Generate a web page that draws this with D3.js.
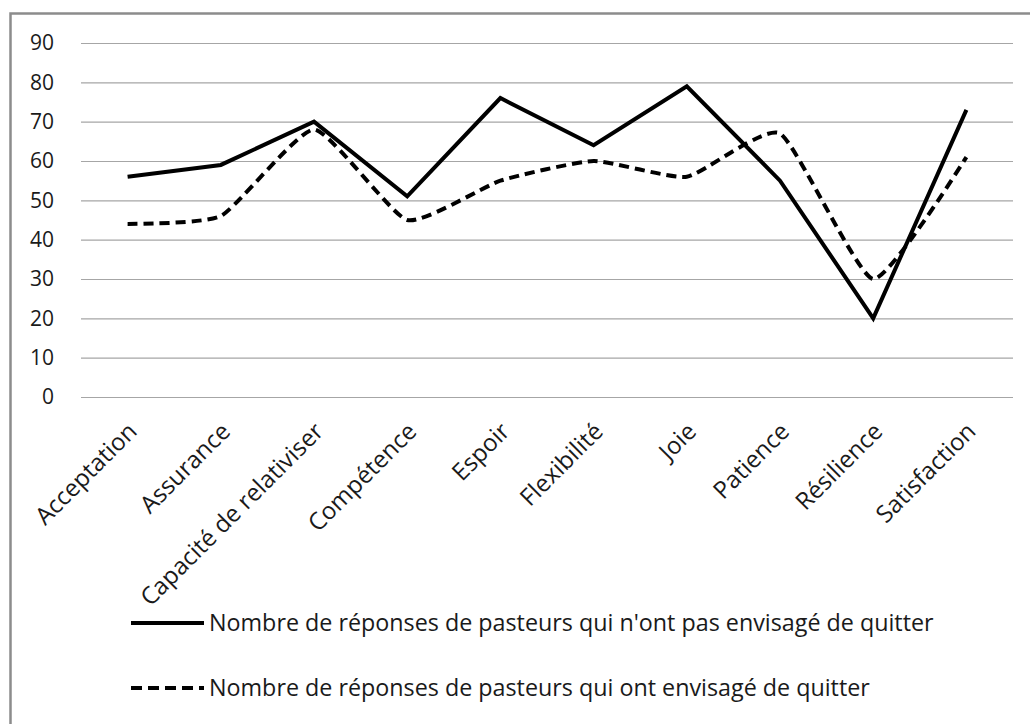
<!DOCTYPE html>
<html>
<head>
<meta charset="utf-8">
<script src="https://cdn.jsdelivr.net/npm/d3@7"></script>
<style>
  body { margin: 0; background: #fff; }
  svg { display: block; font-family: 'Open Sans', sans-serif; }
</style>
</head>
<body>
<div id="chart"></div>
<script>
const categories = ['Acceptation', 'Assurance', 'Capacité de relativiser', 'Compétence', 'Espoir',
  'Flexibilité', 'Joie', 'Patience', 'Résilience', 'Satisfaction'];
const notConsidered = [56, 59, 70, 51, 76, 64, 79, 55, 20, 73];
const considered = [44, 46, 68, 45, 55, 60, 56, 67, 30, 61];
const yTicks = [0, 10, 20, 30, 40, 50, 60, 70, 80, 90];
const seriesNames = [
  "Nombre de réponses de pasteurs qui n'ont pas envisagé de quitter",
  "Nombre de réponses de pasteurs qui ont envisagé de quitter"
];

const width = 1030, height = 724;
const plot = { left: 81, right: 1013, top: 43, bottom: 397 };
const textColor = '#1a1a1a';

const svg = d3.select('#chart').append('svg')
  .attr('width', width)
  .attr('height', height);

svg.append('rect').attr('width', width).attr('height', height).attr('fill', '#fff');

// frame (only top and left visible in the picture)
svg.append('path')
  .attr('d', `M10.5,${height} L10.5,13.5 L${width},13.5`)
  .attr('fill', 'none')
  .attr('stroke', '#8c8c8c')
  .attr('stroke-width', 2.5);

const x = d3.scaleBand().domain(categories).range([plot.left, plot.right]).padding(0);
const y = d3.scaleLinear().domain([0, 90]).range([plot.bottom, plot.top]);
const cx = d => x(d) + x.bandwidth() / 2;

// gridlines + y labels
const yAxis = svg.append('g')
  .attr('transform', `translate(${plot.left},0)`)
  .call(d3.axisLeft(y).tickValues(yTicks).tickSize(-(plot.right - plot.left)).tickPadding(27));
yAxis.select('.domain').remove();
yAxis.selectAll('.tick line').attr('stroke', '#a6a6a6').attr('stroke-width', 1.2);
yAxis.selectAll('.tick text')
  .attr('fill', textColor)
  .attr('font-size', 21)
  .attr('font-family', "'Open Sans', sans-serif");

// category labels, rotated
svg.append('g').selectAll('text')
  .data(categories)
  .join('text')
  .attr('transform', d => `translate(${cx(d) - 1},${plot.bottom + 24}) rotate(-45)`)
  .attr('text-anchor', 'end')
  .attr('dy', '0.7em')
  .attr('font-size', 24)
  .attr('fill', textColor)
  .text(d => d);

// lines
const straight = d3.line()
  .x((d, i) => cx(categories[i]))
  .y(d => y(d));
const smooth = d3.line()
  .x((d, i) => cx(categories[i]))
  .y(d => y(d))
  .curve(d3.curveCardinal.tension(0.5));

svg.append('path')
  .datum(considered)
  .attr('d', smooth)
  .attr('fill', 'none')
  .attr('stroke', '#000')
  .attr('stroke-width', 4)
  .attr('stroke-dasharray', '10,6');

svg.append('path')
  .datum(notConsidered)
  .attr('d', straight)
  .attr('fill', 'none')
  .attr('stroke', '#000')
  .attr('stroke-width', 4)
  .attr('stroke-linejoin', 'miter');

// legend
const legend = svg.append('g');
const legendRows = [
  { name: seriesNames[0], dash: null, y: 623 },
  { name: seriesNames[1], dash: '11,6', y: 688 }
];
legendRows.forEach(r => {
  legend.append('line')
    .attr('x1', 131).attr('x2', 204)
    .attr('y1', r.y).attr('y2', r.y)
    .attr('stroke', '#000')
    .attr('stroke-width', 4)
    .attr('stroke-dasharray', r.dash);
  legend.append('text')
    .attr('x', 209)
    .attr('y', r.y + 8)
    .attr('font-size', 23.3)
    .attr('fill', textColor)
    .text(r.name);
});
</script>
</body>
</html>
